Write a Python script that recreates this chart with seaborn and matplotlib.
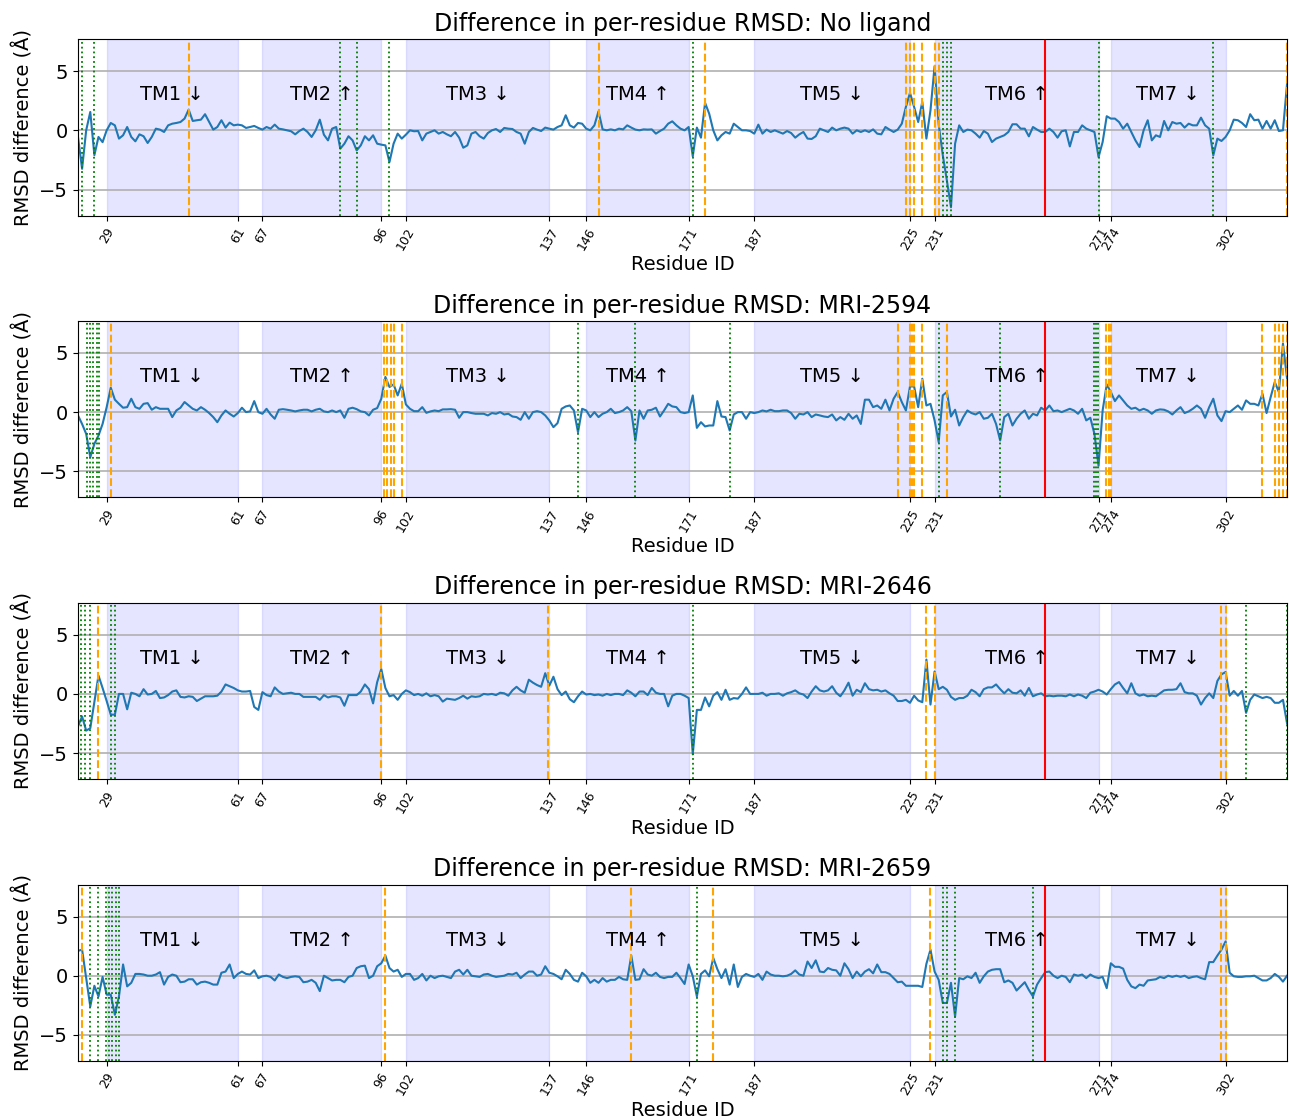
import matplotlib
matplotlib.use("Agg")
import matplotlib.pyplot as plt
import numpy as np
import pandas as pd
import seaborn as sns

# residues on the x axis
residues = np.arange(22, 318)

# per-residue RMSD difference, one list per system (residues 22..317)
no_ligand = [
    -0.56, -3.25, 0.0, 1.55, -2.1, -0.56, -1.0, 0.0, 0.62, 0.42,
    -0.7, -0.42, 0.28, -0.56, -0.93, -0.34, -0.5, -1.07, -0.56, 0.14,
    0.06, -0.14, 0.42, 0.56, 0.62, 0.7, 0.99, 1.75, 0.79, 0.85,
    0.9, 1.36, 0.7, 0.06, 0.28, 0.85, 0.23, 0.65, 0.42, 0.48,
    0.42, 0.2, 0.28, 0.37, 0.2, 0.06, 0.28, 0.14, 0.48, 0.14,
    0.08, 0.0, -0.08, -0.34, -0.06, 0.14, -0.14, -0.56, 0.0, 0.9,
    -0.37, -0.85, 0.14, 0.28, -1.55, -1.13, -0.5, -0.85, -1.7, -1.27,
    -0.5, -0.85, -0.42, -1.13, -1.21, -1.27, -2.68, -1.13, -0.28, -0.7,
    -0.37, 0.0, -0.08, -0.06, -0.85, -0.28, -0.14, 0.0, -0.28, -0.14,
    -0.34, -0.5, -0.14, -0.62, -1.47, -1.27, -0.28, -0.14, -0.5, -0.7,
    -0.23, 0.0, 0.11, -0.14, 0.2, 0.14, 0.11, -0.14, -0.28, -1.13,
    -0.14, 0.2, 0.06, -0.06, 0.23, 0.14, 0.06, 0.28, 0.42, 1.27,
    0.42, 0.23, 0.62, 0.56, 0.14, 0.0, 0.42, 1.61, 0.08, 0.0,
    0.08, 0.0, 0.14, 0.08, 0.42, 0.23, 0.06, 0.0, 0.08, 0.06,
    0.08, -0.28, -0.06, 0.14, 0.56, 0.76, 0.42, 0.14, 0.0, 0.28,
    -2.2, 0.23, -0.62, 2.32, 1.41, 0.0, -0.85, -0.42, -0.14, -0.28,
    0.56, 0.28, 0.0, 0.0, -0.06, -0.28, 0.48, -0.28, 0.06, -0.14,
    0.0, -0.14, -0.28, -0.06, -0.23, -0.62, -0.34, -0.14, -0.7, -0.73,
    -0.5, 0.14, 0.0, -0.14, 0.23, 0.0, 0.14, 0.23, 0.14, -0.28,
    0.0, -0.14, 0.0, -0.14, 0.08, -0.28, -0.34, 0.28, 0.06, -0.14,
    0.06, 0.56, 1.98, 3.16, 1.98, 0.7, 2.4, -0.7, 1.69, 5.42,
    0.5, -2.1, -4.24, -6.5, -1.13, 0.42, -0.14, 0.06, 0.0, -0.28,
    -0.62, -0.06, -0.28, -0.99, -0.7, -0.56, -0.42, -0.14, 0.51, 0.51,
    0.14, 0.14, -0.51, 0.28, 0.06, -0.14, -0.14, 0.14, -0.14, -0.62,
    -0.08, 0.0, -1.36, -0.14, -0.14, 0.42, 0.14, 0.0, -0.14, -2.26,
    -0.99, 1.19, 0.99, 0.99, 0.7, 0.14, 0.56, -0.14, -0.85, -1.41,
    0.0, 0.85, -0.85, -0.42, -0.56, 0.79, 0.0, 0.7, 0.56, 0.62,
    0.23, 0.56, 0.42, 0.42, 1.07, 0.42, 0.14, -2.12, -0.7, -0.9,
    -0.56, 0.0, 0.9, 0.85, 0.62, 0.28, 1.36, 0.85, 0.9, 0.14,
    0.79, 0.14, 0.85, -0.06, 0.0, 3.95,
]

mri_2594 = [
    -0.28, -1.0, -1.84, -3.81, -2.68, -1.98, -1.0, 0.42, 2.06, 1.05,
    0.7, 0.37, 0.42, 1.13, 0.42, 0.28, 0.7, 0.76, 0.2, 0.42,
    0.28, 0.28, 0.28, -0.42, 0.14, 0.37, 0.85, 0.56, 0.28, 0.14,
    0.42, 0.2, -0.08, -0.42, -0.85, -0.28, 0.14, -0.14, -0.37, -0.08,
    0.37, 0.0, 0.06, 0.93, 0.0, -0.14, 0.28, -0.2, -0.56, 0.2,
    0.25, 0.2, 0.14, 0.06, 0.14, 0.2, 0.2, 0.06, 0.2, 0.28,
    0.06, 0.0, 0.14, 0.0, 0.14, -0.48, 0.28, 0.37, 0.25, 0.06,
    0.0, -0.28, 0.2, 0.34, 1.13, 2.97, 2.12, 2.34, 1.41, 2.4,
    0.65, 0.28, 0.08, 0.08, 0.42, -0.06, 0.06, 0.14, 0.08, 0.23,
    0.23, 0.25, 0.2, -0.48, 0.0, 0.0, -0.08, -0.14, -0.14, -0.14,
    -0.28, -0.08, -0.14, 0.0, -0.2, -0.14, -0.37, -0.42, -0.65, 0.0,
    -0.56, 0.0, 0.08, 0.0, -0.28, -0.7, -1.27, -0.93, 0.28, 0.48,
    0.56, 0.14, -1.7, 0.28, 0.14, -0.42, 0.0, -0.42, -0.14, 0.0,
    0.28, -0.08, 0.0, 0.14, 0.42, 0.08, -2.4, 0.14, -0.56, 0.14,
    0.2, 0.37, -0.37, 0.14, 0.7, 0.48, 0.42, 0.0, -0.08, 0.0,
    1.41, -1.33, -0.85, -1.21, -1.13, -1.13, 0.93, -0.37, -0.42, -1.55,
    -0.2, 0.0, 0.0, -0.56, 0.0, -0.08, 0.0, 0.14, 0.06, 0.2,
    0.08, 0.08, 0.14, 0.14, -0.08, -0.56, -0.14, -0.2, 0.0, -0.42,
    -0.2, -0.28, -0.37, -0.42, -0.2, -0.7, -0.42, -0.65, -0.14, -0.56,
    -0.28, -1.0, 1.05, 1.05, 0.42, 0.56, 0.28, 1.05, 0.14, 1.13,
    1.7, 0.85, 0.14, 2.17, 2.17, 0.42, 2.82, 0.56, 0.7, -0.7,
    -2.54, 1.41, 1.7, -0.37, 0.2, -1.13, -0.42, 0.14, -0.08, -0.2,
    0.0, -0.56, -0.48, -0.14, -1.0, -2.4, -0.42, -0.14, -1.13, -0.56,
    -0.14, 0.14, -0.56, -0.14, -0.28, 0.37, 0.14, 0.56, 0.08, 0.14,
    0.0, 0.14, 0.28, 0.14, -0.14, 0.28, -0.7, -0.48, -1.84, -4.52,
    0.14, 2.34, 1.7, 0.93, 1.41, 0.99, 0.56, 0.28, 0.37, 0.14,
    0.28, 0.14, -0.14, 0.14, 0.23, 0.2, 0.06, -0.2, 0.14, 0.42,
    -0.08, 0.06, 0.28, 0.56, 0.28, -0.48, 0.42, 1.13, -0.28, -0.76,
    0.08, 0.0, 0.28, 0.56, 0.2, 0.99, 0.7, 0.7, 0.56, 1.55,
    -0.08, 1.27, 2.54, 1.7, 5.79, 2.82,
]

mri_2646 = [
    -2.75, -1.9, -3.1, -2.9, -0.7, 1.55, 0.5, -0.6, -1.75, -1.75,
    0.0, 0.0, -1.3, 0.1, 0.0, -0.2, 0.4, -0.05, 0.0, 0.25,
    -0.35, -0.3, -0.1, 0.2, 0.3, -0.25, -0.3, -0.2, -0.25, -0.6,
    -0.4, -0.2, -0.2, -0.2, -0.15, 0.2, 0.8, 0.65, 0.5, 0.3,
    0.2, 0.2, 0.25, -1.1, -1.35, 0.15, -0.1, -0.2, 0.55, 0.2,
    0.0, 0.05, 0.1, 0.0, 0.0, -0.25, -0.25, -0.25, -0.25, -0.5,
    -0.1, -0.3, -0.2, -0.2, -0.3, -1.0, -0.1, -0.1, -0.1, 0.2,
    0.8, 0.4, -0.8, 1.0, 2.1, 0.5, -0.2, -0.1, -0.5, 0.0,
    0.3, 0.15, -0.1, 0.0, -0.15, 0.05, -0.2, -0.1, -0.2, -0.65,
    -0.4, -0.45, -0.5, -0.35, -0.15, -0.4, -0.2, -0.25, -0.2, 0.0,
    -0.05, 0.0, -0.1, 0.1, 0.05, -0.15, 0.3, 0.6, 0.3, 0.1,
    1.2, 0.95, 0.75, 0.6, 1.75, 0.7, 1.45, 0.4, -0.1, 0.2,
    -0.45, -0.7, -0.2, 0.2, -0.05, 0.0, -0.1, -0.05, -0.15, 0.0,
    -0.1, 0.0, 0.0, -0.1, 0.3, 0.1, -0.2, 0.2, 0.2, -0.1,
    0.5, 0.1, 0.0, 0.0, -1.05, -0.15, 0.0, 0.0, -0.15, -0.35,
    -5.1, -1.35, -1.35, -0.3, -1.05, -0.15, 0.15, -0.5, 0.35, -0.5,
    -0.35, -0.4, 0.0, 0.55, 0.0, 0.0, 0.0, 0.1, -0.15, 0.0,
    0.0, 0.05, -0.15, 0.05, 0.15, 0.3, 0.05, -0.05, -0.35, 0.2,
    0.65, 0.3, 0.2, 0.3, 0.65, 0.1, -0.2, 0.3, 0.95, -0.15,
    0.35, 0.15, 0.9, 0.4, 0.3, 0.35, 0.2, 0.3, 0.05, -0.15,
    -0.6, -0.6, -0.5, -0.75, -0.15, -0.55, -0.7, 2.9, -0.9, 1.9,
    0.4, 0.6, 0.35, -0.25, -0.5, -0.35, -0.35, -0.15, 0.35, 0.15,
    -0.2, 0.4, 0.55, 0.55, 0.8, 0.4, 0.05, 0.4, 0.1, 0.05,
    0.3, -0.15, 0.5, -0.2, -0.05, 0.05, -0.2, -0.15, -0.2, -0.15,
    -0.15, -0.2, -0.05, -0.2, -0.05, -0.15, -0.35, 0.1, 0.2, 0.35,
    0.2, -0.05, 0.4, 0.8, 1.0, 0.5, 0.05, 0.9, 0.05, -0.15,
    -0.05, -0.2, -0.15, -0.2, 0.05, 0.3, 0.35, 0.35, 0.4, 0.9,
    0.15, 0.05, 0.05, -0.15, -0.9, -0.35, 0.05, -0.35, 1.1, 1.65,
    1.85, -0.15, 0.25, -0.15, 0.25, -1.6, -0.5, -0.05, -0.2, -0.35,
    -0.25, -0.35, -0.75, -0.75, -0.5, -2.5,
]

mri_2659 = [
    2.1, 2.2, -0.2, -2.6, -0.85, -1.75, -0.1, -1.6, -1.6, -3.3,
    -1.75, 0.95, -0.9, -0.6, 0.15, 0.15, 0.1, 0.0, 0.0, 0.1,
    0.3, -0.75, -0.1, 0.1, 0.0, -0.55, -0.5, -0.3, -0.3, -0.75,
    -0.55, -0.5, -0.6, -0.75, -0.75, 0.25, 0.35, 0.95, -0.2, 0.15,
    0.35, 0.15, 0.1, 0.45, -0.2, -0.05, 0.0, -0.1, -0.4, 0.1,
    -0.1, -0.2, -0.1, -0.05, -0.1, -0.55, -0.5, -0.35, -0.6, -1.3,
    0.0, -0.2, -0.4, -0.35, -0.35, -0.55, -0.1, 0.0, 0.65, 0.8,
    0.85, -0.2, 0.0, 0.8, 1.05, 1.7, 0.65, 0.35, 0.5, -0.1,
    0.15, 0.15, -0.35, -0.2, 0.15, -0.4, 0.0, -0.2, -0.05, 0.0,
    -0.1, -0.2, 0.35, 0.5, 0.1, 0.5, 0.0, -0.05, -0.1, 0.1,
    0.15, 0.0, -0.1, -0.05, 0.0, 0.15, 0.1, 0.25, -0.2, 0.1,
    0.35, 0.35, 0.0, 0.1, 0.8, 0.25, 0.15, -0.05, -0.3, 0.5,
    0.15, -0.35, -0.5, 0.25, -0.05, -0.6, -0.35, -0.6, -0.2, -0.5,
    -0.35, -0.35, -0.1, -0.3, -0.35, 1.7, -0.35, -0.3, 0.55, 0.1,
    0.0, 0.25, -0.1, -0.2, -0.1, -0.1, 0.25, -0.2, -0.7, 0.95,
    -0.05, -1.75, 0.15, 0.45, -0.05, 1.5, 0.55, -0.2, 0.55, -0.75,
    0.95, -0.95, -0.1, 0.15, 0.0, -0.1, 0.15, -0.35, 0.35, 0.1,
    0.0, 0.0, -0.05, 0.0, 0.15, 0.45, 0.1, 0.0, 1.2, 0.65,
    1.3, 0.35, 0.3, 0.65, 0.5, 0.45, 0.0, 1.05, 0.55, -0.2,
    0.35, -0.05, 0.35, 0.55, 0.2, 0.95, 0.3, 0.3, 0.15, -0.2,
    -0.55, -0.5, -0.85, -0.85, -0.85, -0.85, -0.95, 1.0, 2.2, 0.35,
    -0.35, -2.3, -2.3, -0.6, -3.45, -0.2, -0.3, -0.05, -0.2, 0.25,
    -0.6, -0.05, 0.35, 0.5, 0.55, 0.55, -0.55, -0.4, -0.6, -1.25,
    -0.9, -0.55, -1.2, -1.75, -0.75, -0.2, 0.3, 0.35, 0.0, -0.2,
    0.0, -0.1, -0.55, 0.1, 0.0, 0.1, -0.2, 0.1, -0.1, -0.2,
    -0.1, -1.05, 1.05, 0.75, 0.75, 0.6, -0.35, -0.9, -1.05, -0.75,
    -0.85, -0.4, -0.35, -0.3, -0.1, -0.2, 0.0, -0.1, 0.0, -0.1,
    0.0, -0.2, -0.1, -0.05, -0.2, -0.3, 1.15, 1.15, 1.7, 2.2,
    2.9, 0.25, -0.05, -0.1, -0.1, -0.05, -0.05, 0.0, -0.2, -0.4,
    -0.4, -0.2, 0.15, -0.1, -0.5, 0.0,
]

systems = ["No ligand", "MRI-2594", "MRI-2646", "MRI-2659"]

# marked residues (green dotted / orange dashed) per system
green_marks = [
    [23, 26, 86, 90, 98, 172, 233, 234, 235, 271, 299],
    [24.1, 24.9, 25.7, 26.6, 27.2, 144, 158, 181, 232, 247, 269.9, 270.4, 270.9],
    [22.8, 23.8, 24.9, 30, 31, 172, 307, 317],
    [25, 27, 28.8, 29.6, 30.4, 31.3, 32.1, 173, 233, 234, 236, 255],
]
orange_marks = [
    [49, 149, 175, 224, 225, 226, 228, 231, 232, 317],
    [30, 96.7, 97.5, 98.3, 99.1, 101, 222, 224.9, 225.4, 226, 228, 234,
     272.9, 273.5, 274, 311, 314, 315, 316, 317],
    [27, 96, 136.6, 229, 231, 301, 302],
    [23, 97, 157, 177, 230, 301, 302],
]
red_mark = 258

# transmembrane helices
tm_names = ["TM1 ↓", "TM2 ↑", "TM3 ↓", "TM4 ↑", "TM5 ↓", "TM6 ↑", "TM7 ↓"]
tm_start = [29, 67, 102, 146, 187, 231, 274]
tm_end = [61, 96, 137, 171, 225, 271, 302]
tick_labels = [29, 61, 67, 96, 102, 137, 146, 171, 187, 225, 231, 271, 274, 302]

series = [no_ligand, mri_2594, mri_2646, mri_2659]

fig, axes = plt.subplots(4, 1, figsize=(12.89, 11.18), dpi=100)
fig.subplots_adjust(left=0.0605, right=0.9985, top=0.965, bottom=0.051, hspace=0.597)

for i, ax in enumerate(axes):
    df = pd.DataFrame({"residue": residues, "rmsd": series[i]})

    # shaded TM regions and their labels
    for lo, hi, name in zip(tm_start, tm_end, tm_names):
        ax.axvspan(lo, hi, color="blue", alpha=0.1)
        ax.text((lo + hi) / 2, 3, name, ha="center", va="center", fontsize=14)

    sns.lineplot(data=df, x="residue", y="rmsd", ax=ax, color="#1f77b4", linewidth=1.5)

    for x in green_marks[i]:
        ax.axvline(x, color="green", linestyle=":", linewidth=1.3)
    for x in orange_marks[i]:
        ax.axvline(x, color="orange", linestyle="--", linewidth=1.5)
    ax.axvline(red_mark, color="red", linewidth=1.5)

    ax.set_xlim(22, 317)
    ax.set_ylim(-7.2, 7.7)
    ax.set_yticks([-5, 0, 5])
    ax.tick_params(axis="y", labelsize=14)
    ax.set_xticks(tick_labels)
    ax.set_xticklabels(tick_labels, rotation=60, fontsize=9)
    ax.yaxis.grid(True, color="#b0b0b0", linewidth=1.2)

    ax.set_xlabel("Residue ID", fontsize=14, labelpad=2)
    ax.set_ylabel("RMSD difference (Å)", fontsize=14)
    ax.set_title(f"Difference in per-residue RMSD: {systems[i]}", fontsize=17)

plt.savefig("out.png", dpi=100)
